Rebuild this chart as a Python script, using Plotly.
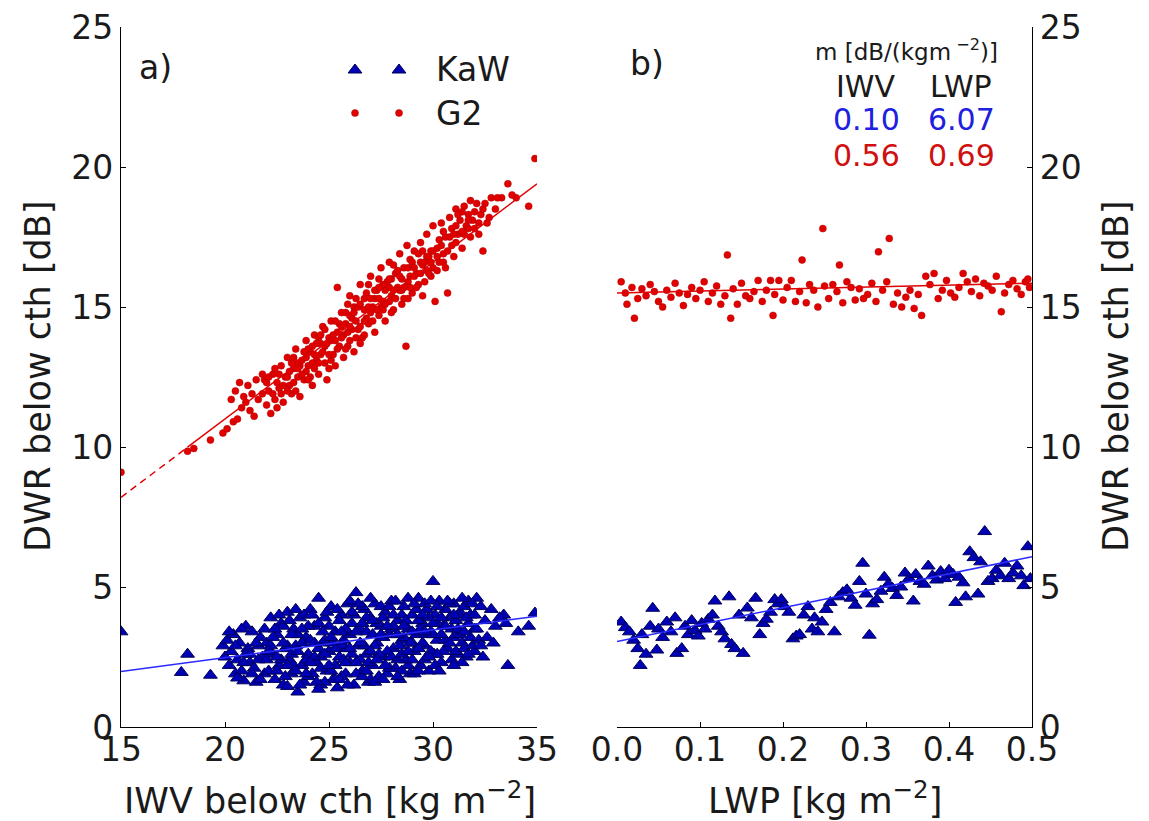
import plotly.graph_objects as go

# ---------------- data ----------------
# panel a) G2 (red dots): IWV below cth vs DWR
g2_iwv = [15.0, 18.2, 18.5, 19.3, 19.9, 20.1, 20.4, 20.6, 20.3, 20.5, 20.7, 20.9, 21.1, 21.0, 21.3, 21.5,
          20.8, 21.2, 21.6, 21.8, 21.4, 21.9, 22.0, 22.1, 22.3, 22.2, 22.5, 22.4, 22.7, 22.6, 22.8, 22.9,
          23.0, 23.1, 23.2, 23.3, 23.4, 23.5, 23.6, 23.7, 23.8, 23.9, 24.0, 24.1, 24.2, 24.3, 24.4, 24.5,
          24.6, 24.7, 24.8, 24.9, 25.0, 25.1, 25.2, 25.3, 25.4, 25.4, 25.5, 25.6, 25.7, 25.8, 25.9, 26.0,
          26.1, 26.2, 26.3, 26.4, 26.5, 26.6, 26.7, 26.8, 26.9, 27.0, 27.1, 27.2, 27.3, 27.4, 27.5, 27.6,
          27.7, 27.8, 27.9, 28.0, 28.1, 28.2, 28.3, 28.4, 28.5, 28.6, 28.7, 28.75, 28.8, 28.9, 29.0, 29.1,
          29.2, 29.3, 29.4, 29.5, 29.6, 29.7, 29.8, 29.9, 30.0, 30.1, 30.2, 30.3, 30.4, 30.5, 30.7, 30.6,
          30.8, 30.9, 31.0, 31.1, 31.2, 31.3, 31.4, 31.5, 31.6, 31.7, 31.8, 32.0, 32.2, 32.4, 32.5, 32.7,
          33.0, 33.3, 33.6, 34.0, 34.6, 34.9, 33.8,
          22.5, 23.0, 23.3, 23.6, 24.0, 24.2, 24.5, 24.8, 25.0, 25.2, 25.5, 25.7, 26.0, 26.2, 26.5, 26.7,
          27.0, 27.2, 27.5, 27.7, 28.0, 28.2, 28.5, 28.8, 29.0, 29.3, 29.5, 29.7, 30.0, 30.3, 30.6, 31.0,
          31.4, 31.8, 32.2, 32.8, 26.3, 25.9, 24.6, 23.9, 27.9, 29.9, 26.9, 28.4, 24.3, 27.4,
          21.8, 22.0, 22.3, 22.6, 22.8, 23.1, 23.3, 23.5, 23.7, 23.9, 24.1, 24.2, 24.4, 24.6, 24.8, 25.0,
          25.1, 25.3, 25.4, 25.6, 25.8, 25.9, 26.1, 26.2, 26.4, 26.5, 26.7, 26.8, 27.0, 27.1, 27.3, 27.4,
          27.6, 27.7, 27.9, 28.0, 28.1, 28.3, 28.5, 28.6, 28.8, 28.9, 29.1, 29.2, 29.4, 29.5, 29.7, 29.8,
          30.0, 30.2, 30.4, 30.5, 30.7, 30.9, 31.1, 31.2, 31.5, 31.7, 31.9, 32.1, 32.3, 32.6, 33.1, 26.0,
          24.7, 23.4,
          22.1, 22.4, 22.7, 23.0, 23.2, 23.5, 23.8, 24.0, 24.3, 24.5, 24.9, 25.1, 25.3, 25.6, 25.8, 26.0,
          26.3, 26.5, 26.7, 26.9, 27.2, 27.4, 27.6, 27.9, 28.1, 28.4, 28.6, 28.9, 29.1, 29.4, 29.6, 29.9,
          30.2, 30.5, 30.8, 31.1, 31.4, 31.7, 32.0, 32.4]
g2_dwr_iwv = [9.1, 9.85, 9.95, 10.25, 10.5, 10.65, 10.9, 11.0, 11.7, 12.0, 12.3, 11.8, 12.2, 11.6, 11.9, 12.4,
              11.4, 11.3, 11.7, 11.9, 11.1, 12.4, 11.5, 12.0, 12.6, 11.2, 12.3, 11.7, 12.9, 12.1, 11.6, 12.5,
              13.2, 12.2, 11.9, 12.8, 13.5, 12.5, 11.8, 13.1, 12.4, 13.8, 12.9, 13.4, 12.2, 14.0, 13.1, 12.6,
              13.7, 14.3, 13.0, 12.4, 13.9, 14.5, 13.3, 12.9, 15.7, 14.1, 13.6, 14.8, 13.2, 14.4, 15.1, 13.8,
              14.6, 13.4, 15.3, 14.2, 15.8, 13.9, 14.9, 15.5, 14.4, 16.1, 15.0, 14.1, 15.6, 14.7, 16.4, 15.2,
              14.5, 15.9, 16.6, 15.4, 14.9, 16.2, 15.7, 16.9, 15.1, 16.4, 13.6, 17.2, 15.9, 16.7, 15.5, 17.0,
              16.2, 15.8, 17.3, 16.5, 15.9, 17.6, 16.8, 16.1, 17.9, 15.2, 17.1, 16.6, 18.0, 16.9, 15.5, 17.5,
              18.2, 17.2, 16.8, 18.5, 17.6, 18.1, 17.1, 18.6, 17.9, 18.3, 17.5, 18.4, 18.0, 17.0, 18.7, 18.2,
              18.5, 18.9, 19.4, 18.9, 18.6, 20.3, 19.0,
              11.4, 12.0, 12.3, 12.9, 13.5, 13.0, 13.9, 14.2, 12.8, 14.0, 14.4, 14.0, 14.7, 15.0, 14.3, 14.0,
              14.8, 15.3, 15.0, 15.6, 16.0, 15.3, 16.0, 16.4, 16.6, 16.9, 15.4, 16.3, 16.4, 17.4, 16.4, 17.6,
              18.4, 18.8, 17.6, 18.9, 14.5, 13.6, 13.3, 12.7, 15.2, 17.0, 15.8, 15.6, 12.8, 16.0,
              12.6, 12.3, 11.9, 12.6, 12.2, 12.7, 13.2, 13.0, 12.6, 13.2, 12.5, 13.6, 13.7, 14.0, 13.6, 13.3,
              13.8, 14.5, 13.5, 13.9, 14.8, 14.1, 14.2, 14.8, 15.0, 13.7, 15.3, 14.6, 15.3, 14.5, 14.9, 15.3,
              15.8, 15.1, 15.7, 14.8, 16.5, 16.3, 15.6, 15.7, 15.3, 16.1, 16.4, 15.7, 16.6, 17.0, 16.8, 16.2,
              17.0, 16.3, 17.2, 17.7, 17.0, 17.8, 17.3, 18.3, 17.6, 17.8, 18.1, 18.7, 18.3, 18.0, 18.9, 15.4,
              13.4, 12.0,
              12.5, 12.8, 11.9, 12.5, 13.0, 12.8, 13.4, 12.4, 13.3, 13.0, 13.7, 13.1, 13.8, 14.3, 13.5, 14.3,
              13.9, 15.1, 14.5, 15.0, 15.6, 15.7, 14.9, 16.0, 15.6, 16.1, 15.3, 15.7, 16.1, 16.2, 16.6, 16.6,
              16.8, 16.6, 17.5, 17.9, 17.7, 18.1, 17.8, 18.5]

# panel a) KaW (blue triangles): IWV below cth vs DWR
kaw_iwv = [15.0, 17.9, 18.2, 19.3,
           19.9, 20.0, 20.1, 20.2, 20.3, 20.4, 20.5, 20.6, 20.7, 20.8, 20.9, 21.0, 21.1, 21.2, 21.3, 21.4,
           21.5, 21.6, 21.7, 21.8, 21.9,
           22.0, 22.1, 22.2, 22.3, 22.4, 22.5, 22.6, 22.7, 22.8, 22.9, 23.0, 23.1, 23.2, 23.3, 23.4, 23.5,
           23.6, 23.7, 23.8, 23.9, 24.0, 24.1, 24.2, 24.3, 24.4, 24.5, 24.6, 24.7, 24.8, 24.9,
           25.0, 25.1, 25.2, 25.3, 25.4, 25.5, 25.6, 25.7, 25.8, 25.9, 26.0, 26.1, 26.2, 26.3, 26.4, 26.5,
           26.6, 26.7, 26.8, 26.9, 27.0, 27.1, 27.2, 27.3, 27.4, 27.5, 27.6, 27.7, 27.8, 27.9, 28.0, 28.1,
           28.2, 28.3, 28.4, 28.5, 28.6, 28.7, 28.8, 28.9, 29.0, 29.1, 29.2, 29.3, 29.4, 29.5, 29.6, 29.7,
           29.8, 29.9,
           30.0, 30.05, 30.1, 30.2, 30.3, 30.4, 30.5, 30.6, 30.7, 30.8, 30.9, 31.0, 31.1, 31.2, 31.3, 31.4,
           31.5, 31.6, 31.7, 31.8, 31.9, 32.0, 32.1, 32.2, 32.4, 32.5, 32.8, 33.0, 33.4, 33.6, 34.1, 34.6,
           34.9,
           22.5, 23.0, 23.5, 24.0, 24.0, 24.5, 24.8, 25.0, 25.3, 25.5, 25.8, 26.0, 26.2, 26.5, 26.8, 27.0,
           27.2, 27.5, 27.8, 28.0, 28.3, 28.5, 28.8, 29.0, 29.3, 29.6, 29.9, 30.2, 30.5, 30.8, 31.1, 31.4,
           31.7, 22.8, 23.8, 24.3, 25.6, 26.6, 27.3, 28.6, 29.4, 30.1, 23.2, 24.7, 26.3, 27.9, 29.1, 31.0,
           20.2, 20.5, 20.8, 21.0, 21.3, 21.6, 21.9, 20.6, 21.7,
           22.2, 22.4, 22.7, 22.9, 23.1, 23.3, 23.6, 23.7, 23.9, 24.1, 24.2, 24.4, 24.6, 24.8, 24.9, 23.4,
           22.6, 24.5, 23.0,
           25.1, 25.2, 25.4, 25.6, 25.8, 25.9, 26.1, 26.3, 26.4, 26.6, 26.8, 26.9, 27.1, 27.2, 27.4, 27.6,
           27.7, 27.9, 28.1, 28.2, 28.4, 28.5, 28.7, 28.8, 29.0, 29.2, 29.3, 29.5, 29.6, 29.8, 29.9, 26.0,
           25.3, 27.0, 28.3, 29.7, 25.7, 26.7, 27.6, 28.9,
           30.0, 30.2, 30.4, 30.6, 30.7, 30.9, 31.1, 31.2, 31.3, 31.5, 31.6, 31.8, 31.9, 32.0, 32.1, 32.3,
           32.6, 32.9, 33.2, 33.5, 30.3, 31.0, 31.4,
           22.1, 22.3, 22.5, 22.8, 23.0, 23.2, 23.4, 23.5, 23.7, 23.9, 24.1, 24.3, 24.5, 24.6, 24.8, 25.0,
           25.1, 25.3, 25.5, 25.6, 25.8, 26.0, 26.1, 26.3, 26.5, 26.6, 26.8, 27.0, 27.1, 27.3, 27.5, 27.6,
           27.8, 28.0, 28.1, 28.3, 28.5, 28.6, 28.8, 29.0, 29.1, 29.3, 29.5, 29.6, 29.8, 30.0, 30.2, 30.4,
           30.6, 30.8, 31.0, 31.2, 31.5, 31.7, 32.0, 32.3, 21.2, 21.5, 20.9, 22.0]
kaw_dwr_iwv = [3.4, 1.95, 2.6, 1.85,
               2.9, 2.5, 3.1, 2.2, 2.7, 3.3, 1.9, 2.4, 3.0, 2.0, 1.65, 3.6, 2.8, 2.3, 3.4, 2.1,
               1.6, 2.9, 3.2, 2.5, 1.9,
               3.0, 2.0, 3.9, 2.6, 1.7, 3.3, 2.2, 3.7, 1.5, 2.8, 4.1, 2.4, 1.9, 3.5, 2.9, 1.25,
               3.9, 2.2, 1.6, 3.2, 2.6, 4.2, 1.9, 3.6, 2.3, 4.6, 1.5, 3.0, 3.9, 2.0,
               2.7, 4.3, 1.7, 3.4, 1.4, 2.5, 4.0, 3.1, 1.9, 4.4, 2.3, 3.7, 1.5, 4.8, 2.9, 3.5,
               2.0, 4.2, 2.6, 1.6, 3.9, 2.2, 4.4, 3.0, 1.8, 3.6, 2.5, 4.1, 1.9, 3.3, 4.5, 2.8,
               2.1, 3.8, 1.7, 3.1, 4.3, 2.4, 3.5, 1.9, 4.0, 2.7, 3.3, 4.6, 2.2, 3.7, 2.9, 4.2,
               2.0, 3.4,
               5.2, 2.6, 4.0, 3.1, 4.5, 2.3, 3.6, 4.2, 2.8, 3.9, 2.4, 4.4, 3.3, 2.6, 4.1, 3.0,
               4.3, 2.5, 3.7, 4.0, 2.9, 3.5, 4.6, 3.1, 2.5, 3.8, 4.2, 3.6, 4.0, 2.2, 3.4, 3.6,
               4.07,
               2.0, 2.9, 3.3, 1.8, 3.6, 2.8, 1.6, 3.6, 2.2, 3.8, 2.8, 3.3, 4.0, 2.4, 3.4, 1.7,
               2.9, 4.3, 2.7, 3.5, 2.4, 4.0, 2.2, 3.0, 3.8, 4.4, 2.7, 3.7, 2.7, 4.4, 3.8, 2.3,
               4.5, 3.6, 4.0, 2.5, 1.8, 4.3, 3.7, 3.2, 3.5, 2.2, 2.6, 3.4, 1.9, 2.1, 1.9, 3.2,
               3.4, 2.9, 3.5, 2.6, 1.9, 2.4, 3.5, 1.75, 1.7,
               2.9, 3.5, 2.4, 1.8, 3.8, 2.2, 1.5, 3.0, 2.4, 3.1, 4.0, 1.6, 2.5, 3.1, 4.1, 4.2,
               4.0, 1.35, 1.45,
               2.0, 3.0, 4.2, 2.9, 3.5, 1.5, 2.6, 3.4, 4.4, 1.8, 3.9, 2.3, 3.3, 1.6, 2.6, 3.9,
               2.2, 4.3, 3.6, 4.5, 2.9, 2.0, 3.8, 4.6, 2.4, 4.2, 2.0, 3.0, 2.4, 3.9, 4.5, 4.5,
               1.7, 4.6, 1.8, 3.3, 2.4, 2.9, 3.2, 3.0,
               3.3, 2.6, 3.9, 3.1, 4.5, 3.5, 2.7, 4.0, 3.3, 2.8, 3.9, 3.2, 4.4, 2.7, 3.5, 4.3,
               3.2, 3.0, 3.9, 3.7, 2.0, 2.2, 4.6,
               2.7, 3.2, 2.5, 3.0, 2.2, 3.3, 2.0, 2.7, 3.5, 1.9, 2.3, 3.0, 3.7, 2.1, 2.6, 2.2,
               3.2, 2.8, 1.7, 3.4, 2.3, 2.8, 4.1, 2.3, 3.0, 3.7, 2.0, 2.7, 3.8, 2.4, 3.3, 1.7,
               3.6, 2.5, 4.0, 3.3, 2.6, 3.6, 2.7, 3.4, 4.4, 2.8, 4.0, 3.4, 2.5, 3.7, 4.3, 3.3,
               3.6, 3.0, 4.0, 3.5, 3.4, 2.6, 4.0, 2.9, 2.6, 3.0, 2.3, 2.4]

# panel b) G2 (red dots): LWP vs DWR
g2_lwp = [0.005, 0.01, 0.012, 0.018, 0.021, 0.025, 0.03, 0.035, 0.04, 0.045, 0.05, 0.055, 0.06, 0.065,
          0.07, 0.075, 0.08, 0.085, 0.09, 0.095, 0.1, 0.105, 0.11, 0.115, 0.12, 0.125, 0.13, 0.133, 0.137,
          0.14, 0.145, 0.15, 0.155, 0.16, 0.165, 0.17, 0.175, 0.18, 0.185, 0.188, 0.19, 0.195, 0.2, 0.205,
          0.21, 0.215, 0.22, 0.223, 0.228, 0.232, 0.237, 0.242, 0.248, 0.25, 0.255, 0.26, 0.265, 0.268,
          0.272, 0.277, 0.282, 0.287, 0.292, 0.297, 0.302, 0.307, 0.312, 0.315, 0.32, 0.325, 0.328, 0.333,
          0.338, 0.343, 0.348, 0.353, 0.358, 0.363, 0.367, 0.372, 0.377, 0.382, 0.387, 0.392, 0.397, 0.402,
          0.407, 0.412, 0.417, 0.422, 0.427, 0.432, 0.437, 0.442, 0.447, 0.452, 0.457, 0.463, 0.467, 0.472,
          0.477, 0.482, 0.487, 0.492, 0.497, 0.495]
g2_dwr_lwp = [15.9, 15.5, 15.1, 15.7, 14.6, 15.3, 15.65, 15.4, 15.8, 15.55, 15.2, 15.0, 15.6, 15.35,
              15.85, 15.5, 15.05, 15.45, 15.7, 15.3, 15.6, 15.9, 15.2, 15.5, 15.75, 15.1, 15.4, 16.86, 14.6,
              15.65, 15.1, 15.85, 15.4, 15.3, 15.55, 15.95, 15.2, 15.6, 15.95, 14.7, 15.45, 15.95, 15.25, 15.7,
              15.95, 15.2, 15.55, 16.68, 15.15, 15.8, 15.6, 15.0, 17.8, 15.75, 15.3, 15.8, 15.55, 16.5,
              15.15, 15.9, 15.7, 15.25, 15.65, 15.3, 15.45, 15.85, 15.2, 16.97, 15.6, 15.9, 17.45, 15.1,
              15.5, 15.0, 15.35, 15.6, 14.95, 15.45, 14.7, 16.1, 15.8, 16.2, 15.3, 15.6, 15.95, 15.5,
              15.35, 15.7, 16.2, 15.9, 15.55, 16.0, 15.4, 15.85, 15.75, 15.6, 16.1, 14.83, 15.5, 15.8,
              15.95, 15.65, 15.45, 15.9, 15.7, 16.0]

# panel b) KaW (blue triangles): LWP vs DWR
kaw_lwp = [0.005, 0.01, 0.015, 0.02, 0.025, 0.028, 0.03, 0.035, 0.04, 0.043, 0.048, 0.05, 0.055, 0.06,
           0.065, 0.07, 0.072, 0.078, 0.082, 0.086, 0.09, 0.094, 0.098, 0.102, 0.106, 0.11, 0.115, 0.118,
           0.122, 0.126, 0.13, 0.135, 0.138, 0.142, 0.147, 0.152, 0.157, 0.162, 0.167, 0.172, 0.176, 0.18,
           0.185, 0.19, 0.194, 0.198, 0.202, 0.207, 0.212, 0.216, 0.22, 0.225, 0.23, 0.235, 0.238, 0.242,
           0.247, 0.252, 0.257, 0.262, 0.267, 0.272, 0.277, 0.282, 0.287, 0.292, 0.296, 0.3, 0.304, 0.308,
           0.313, 0.318, 0.322, 0.327, 0.332, 0.337, 0.342, 0.347, 0.352, 0.357, 0.36, 0.365, 0.37, 0.375,
           0.38, 0.385, 0.39, 0.395, 0.4, 0.405, 0.408, 0.412, 0.417, 0.42, 0.425, 0.43, 0.435, 0.438,
           0.443, 0.447, 0.452, 0.457, 0.462, 0.467, 0.472, 0.477, 0.482, 0.487, 0.49, 0.495, 0.498]
kaw_dwr_lwp = [3.75, 3.55, 3.4, 3.1, 2.8, 2.2, 3.3, 2.6, 3.6, 4.24, 2.75, 3.5, 3.2, 3.75,
               3.4, 3.9, 2.63, 2.8, 3.6, 3.3, 3.8, 3.45, 3.25, 3.7, 3.5, 3.85, 4.0, 4.5,
               3.6, 3.4, 3.15, 4.65, 2.95, 2.8, 4.0, 2.63, 4.25, 3.9, 4.6, 3.3, 3.7, 3.85,
               4.1, 4.55, 4.4, 4.55, 4.3, 4.1, 3.15, 3.25, 3.3, 4.0, 4.3, 3.5, 3.9, 3.4,
               3.75, 4.2, 4.45, 3.4, 4.65, 4.8, 4.9, 4.6, 4.35, 5.2, 5.85, 4.75, 3.28, 4.4,
               4.55, 4.85, 5.35, 5.1, 4.95, 4.7, 5.0, 5.5, 5.3, 4.5, 5.45, 5.2, 5.1, 5.75,
               5.4, 5.25, 5.55, 5.3, 5.6, 5.45, 4.45, 5.35, 5.15, 4.65, 6.26, 6.05, 4.75, 5.9,
               6.98, 5.2, 5.3, 5.6, 5.4, 5.85, 5.3, 5.5, 5.75, 5.4, 5.05, 6.44, 5.3]

# linear fits (end points)
fit_iwv_x = [15, 35]
fit_iwv_kaw = [1.98, 3.96]
fit_iwv_g2 = [8.2, 19.4]
g2_iwv_dash_end = 18.2          # fitted red line is dashed below this IWV
fit_lwp_x = [0.0, 0.5]
fit_lwp_kaw = [3.05, 6.08]
fit_lwp_g2 = [15.5, 15.85]

# slopes table
slope_cols = ["IWV", "LWP"]
slope_kaw = ["0.10", "6.07"]
slope_g2 = ["0.56", "0.69"]

iwv_ticks = [15, 20, 25, 30, 35]
lwp_ticks = [0.0, 0.1, 0.2, 0.3, 0.4, 0.5]
dwr_ticks = [0, 5, 10, 15, 20, 25]

# ---------------- styling ----------------
# The page body has an 8 px margin, so the figure is drawn 8 px in from the
# window's top-left corner; all positions below are given in window pixels.
OFF = 8
FW, FH = 1141, 813
FONT = "DejaVu Sans"
FS = 33
FS_TITLE = 35
TXT_COL = "#1a1a1a"
RED = "#e00000"
RED_EDGE = "#b00000"
BLUE = "#0000b4"
BLUE_EDGE = "#00005a"
LINE_BLUE = "#2a2aff"


def px(x):
    return (x - OFF) / FW


def py(y):
    return 1 - (y - OFF) / FH


fig = go.Figure()

tri = dict(symbol="triangle-up", size=12, color=BLUE, line=dict(color=BLUE_EDGE, width=1))
dot = dict(symbol="circle", size=7, color=RED, line=dict(color=RED_EDGE, width=0.5))

# panel a
fig.add_trace(go.Scatter(x=kaw_iwv, y=kaw_dwr_iwv, mode="markers", marker=tri,
                         xaxis="x", yaxis="y", showlegend=False))
fig.add_trace(go.Scatter(x=g2_iwv, y=g2_dwr_iwv, mode="markers", marker=dot,
                         xaxis="x", yaxis="y", showlegend=False))
fig.add_trace(go.Scatter(x=fit_iwv_x, y=fit_iwv_kaw, mode="lines",
                         line=dict(color=LINE_BLUE, width=1.5), xaxis="x", yaxis="y", showlegend=False))
slope_a = (fit_iwv_g2[1] - fit_iwv_g2[0]) / (fit_iwv_x[1] - fit_iwv_x[0])
y_break = fit_iwv_g2[0] + slope_a * (g2_iwv_dash_end - fit_iwv_x[0])
fig.add_trace(go.Scatter(x=[fit_iwv_x[0], g2_iwv_dash_end], y=[fit_iwv_g2[0], y_break], mode="lines",
                         line=dict(color=RED, width=1.5, dash="7px,5px"), xaxis="x", yaxis="y",
                         showlegend=False))
fig.add_trace(go.Scatter(x=[g2_iwv_dash_end, fit_iwv_x[1]], y=[y_break, fit_iwv_g2[1]], mode="lines",
                         line=dict(color=RED, width=1.5), xaxis="x", yaxis="y", showlegend=False))

# panel b
fig.add_trace(go.Scatter(x=kaw_lwp, y=kaw_dwr_lwp, mode="markers", marker=tri,
                         xaxis="x2", yaxis="y2", showlegend=False))
fig.add_trace(go.Scatter(x=g2_lwp, y=g2_dwr_lwp, mode="markers", marker=dot,
                         xaxis="x2", yaxis="y2", showlegend=False))
fig.add_trace(go.Scatter(x=fit_lwp_x, y=fit_lwp_kaw, mode="lines",
                         line=dict(color=LINE_BLUE, width=1.5), xaxis="x2", yaxis="y2", showlegend=False))
fig.add_trace(go.Scatter(x=fit_lwp_x, y=fit_lwp_g2, mode="lines",
                         line=dict(color=RED, width=1.5), xaxis="x2", yaxis="y2", showlegend=False))

# custom legend (two sample markers per entry, like matplotlib), on a full-page pixel axis
legend_names = ["KaW", "G2"]
legend_row_y = [70, 113]
legend_sample_x = [355, 399]
legend_text_x = 434
fig.add_trace(go.Scatter(x=legend_sample_x, y=[legend_row_y[0]] * 2, mode="markers", marker=tri,
                         xaxis="x3", yaxis="y3", showlegend=False, cliponaxis=False))
fig.add_trace(go.Scatter(x=legend_sample_x, y=[legend_row_y[1]] * 2, mode="markers", marker=dot,
                         xaxis="x3", yaxis="y3", showlegend=False, cliponaxis=False))

# plot areas in window pixels
A_L, A_R = 121, 537
B_L, B_R = 617, 1032
TOP, BOT = 27, 727

axis_common = dict(showgrid=False, zeroline=False, showline=True, linecolor="black", linewidth=1.3,
                   ticks="inside", ticklen=5, tickwidth=1, tickcolor="black",
                   tickfont=dict(family=FONT, size=FS, color=TXT_COL), automargin=False, mirror=False,
                   ticklabeloverflow="allow")

fig.update_layout(
    width=FW, height=FH,
    margin=dict(l=0, r=0, t=0, b=0),
    paper_bgcolor="white", plot_bgcolor="rgba(0,0,0,0)",
    template="none",
    showlegend=False,
    xaxis=dict(domain=[px(A_L), px(A_R)], range=[15, 35], tickvals=iwv_ticks, anchor="y",
               ticklabelstandoff=-7, **axis_common),
    yaxis=dict(domain=[py(BOT), py(TOP)], range=[0, 25], tickvals=dwr_ticks, anchor="x", **axis_common),
    xaxis2=dict(domain=[px(B_L), px(B_R)], range=[0, 0.5], tickvals=lwp_ticks, tickformat=".1f",
                anchor="y2", ticklabelstandoff=-7, **axis_common),
    yaxis2=dict(domain=[py(BOT), py(TOP)], range=[0, 25], tickvals=dwr_ticks, anchor="x2", side="right",
                **axis_common),
    xaxis3=dict(domain=[0, 1], range=[OFF, OFF + FW], visible=False, anchor="y3", fixedrange=True),
    yaxis3=dict(domain=[0, 1], range=[OFF + FH, OFF], visible=False, anchor="x3", fixedrange=True),
)

txt = dict(family=FONT, size=FS_TITLE, color=TXT_COL)
ann = []
# axis titles
ann.append(dict(x=px(38), y=py(377), text="DWR below cth [dB]", textangle=-90, font=txt))
ann.append(dict(x=px(1116), y=py(377), text="DWR below cth [dB]", textangle=-90, font=txt))
ann.append(dict(x=px(330), y=py(798), text="IWV below cth [kg m<sup>−2</sup>]", font=txt))
ann.append(dict(x=px(825), y=py(798), text="LWP [kg m<sup>−2</sup>]", font=txt))
# panel labels
ann.append(dict(x=px(155), y=py(67), text="a)", font=dict(family=FONT, size=FS, color=TXT_COL)))
ann.append(dict(x=px(647), y=py(64), text="b)", font=dict(family=FONT, size=FS, color=TXT_COL)))
# legend texts
for name, yy in zip(legend_names, legend_row_y):
    ann.append(dict(x=px(legend_text_x), y=py(yy), text=name, xanchor="left",
                    font=dict(family=FONT, size=FS, color=TXT_COL)))
# slope table
ann.append(dict(x=px(906), y=py(50), text="m [dB/(kgm<sup> −2</sup>)]",
                font=dict(family=FONT, size=23, color=TXT_COL)))
col_x = [866, 961]
for cx, head, kv, gv in zip(col_x, slope_cols, slope_kaw, slope_g2):
    ann.append(dict(x=px(cx), y=py(86), text=head, font=dict(family=FONT, size=30, color=TXT_COL)))
    ann.append(dict(x=px(cx), y=py(119), text=kv, font=dict(family=FONT, size=30, color="#2020e0")))
    ann.append(dict(x=px(cx), y=py(155), text=gv, font=dict(family=FONT, size=30, color="#d01010")))

for a in ann:
    a.update(xref="paper", yref="paper", showarrow=False)
    a.setdefault("xanchor", "center")
    a.setdefault("yanchor", "middle")
fig.update_layout(annotations=ann)

fig.write_html("out.html")
